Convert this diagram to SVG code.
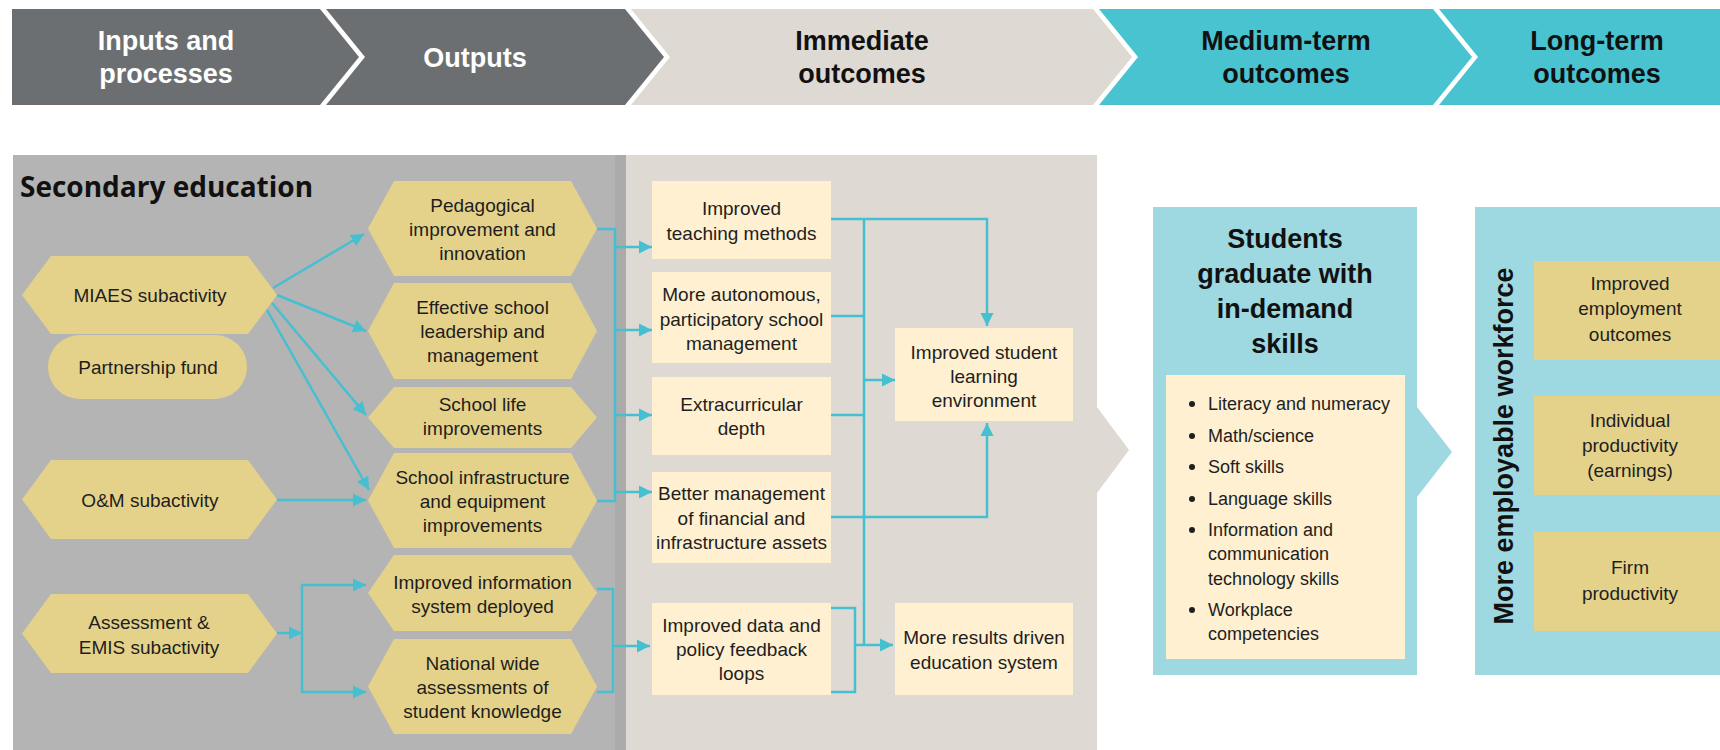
<svg xmlns="http://www.w3.org/2000/svg" width="1720" height="750" viewBox="0 0 1720 750">
<defs>
<style>
.hd{font-family:"Liberation Sans",Arial,sans-serif;font-weight:bold;font-size:27px;text-anchor:middle}
.hw{fill:#ffffff}
.hk{fill:#111111}
.t{font-family:"Liberation Sans",Arial,sans-serif;font-size:19px;fill:#1e1e1e;text-anchor:middle}
.b{font-family:"Liberation Sans",Arial,sans-serif;font-size:18px;fill:#1e1e1e}
.gold{fill:#e5d28a}
.cream{fill:#fef0d0}
.con{fill:none;stroke:#46bfd0;stroke-width:2.5}
.arr{fill:none;stroke:#46bfd0;stroke-width:2.5;marker-end:url(#ah)}
</style>
<marker id="ah" markerUnits="userSpaceOnUse" markerWidth="13" markerHeight="14" viewBox="0 0 10 10" refX="10" refY="5" orient="auto">
<path d="M0,0 L10,5 L0,10 Z" fill="#46bfd0"/>
</marker>
</defs>

<g id="header">
<path d="M12,9 L320,9 L359,57 L320,105 L12,105 Z" fill="#6c6f71"/>
<path d="M326,9 L625,9 L664,57 L625,105 L326,105 L365,57 Z" fill="#6c6f71"/>
<path d="M631,9 L1093,9 L1132,57 L1093,105 L631,105 L670,57 Z" fill="#dedad3"/>
<path d="M1099,9 L1433,9 L1472,57 L1433,105 L1099,105 L1138,57 Z" fill="#4ac3d1"/>
<path d="M1439,9 L1720,9 L1720,105 L1439,105 L1478,57 Z" fill="#4ac3d1"/>
<text class="hd hw" x="166" y="50">Inputs and</text>
<text class="hd hw" x="166" y="83">processes</text>
<text class="hd hw" x="475" y="67">Outputs</text>
<text class="hd hk" x="862" y="50">Immediate</text>
<text class="hd hk" x="862" y="83">outcomes</text>
<text class="hd hk" x="1286" y="50">Medium-term</text>
<text class="hd hk" x="1286" y="83">outcomes</text>
<text class="hd hk" x="1597" y="50">Long-term</text>
<text class="hd hk" x="1597" y="83">outcomes</text>
</g>

<g id="panels">
<rect x="13" y="155" width="613" height="595" fill="#b4b4b4"/>
<rect x="615" y="155" width="11" height="595" fill="#ababab"/>
<path d="M626,155 L1097,155 L1097,407 L1129,450 L1097,493 L1097,750 L626,750 Z" fill="#dedad3"/>
<text x="20" y="197" font-family="'Open Sans','Noto Sans',sans-serif" font-weight="700" font-size="28" fill="#111111">Secondary education</text>
</g>

<g id="connectors">
<path class="arr" d="M273,288 L364,234"/>
<path class="arr" d="M277,295 L366,331"/>
<path class="arr" d="M272,303 L366,415"/>
<path class="arr" d="M267,310 L369,490"/>
<path class="arr" d="M277,500 L366,500"/>
<path class="arr" d="M277,633 L302,633"/>
<path class="con" d="M302,585 V692"/>
<path class="arr" d="M301,585 H366"/>
<path class="arr" d="M301,692 H366"/>
<path class="con" d="M597,229 H615 V501 H597"/>
<path class="arr" d="M614,247 H652"/>
<path class="arr" d="M614,330 H652"/>
<path class="arr" d="M614,415 H652"/>
<path class="arr" d="M614,492 H652"/>
<path class="con" d="M597,589 H613 V692 H597"/>
<path class="arr" d="M612,646 H650"/>
<path class="con" d="M864,219 V645"/>
<path class="arr" d="M831,219 H987 V326"/>
<path class="con" d="M831,316 H864"/>
<path class="con" d="M831,415 H864"/>
<path class="arr" d="M831,517 H987 V423"/>
<path class="arr" d="M863,380 H895"/>
<path class="con" d="M831,608 H855 V692 H831"/>
<path class="arr" d="M854,645 H893"/>
</g>

<g id="n-miaes">
<polygon class="gold" points="22,295 51,256 248,256 277,295 248,334 51,334"/>
<text class="t" x="150" y="302">MIAES subactivity</text>
</g>
<g id="n-partnership">
<rect class="gold" x="48" y="335" width="199" height="64" rx="32" ry="32"/>
<text class="t" x="148" y="374">Partnership fund</text>
</g>
<g id="n-om">
<polygon class="gold" points="22,499.5 51,460 248,460 277,499.5 248,539 51,539"/>
<text class="t" x="150" y="507">O&amp;M subactivity</text>
</g>
<g id="n-assessment">
<polygon class="gold" points="22,633.5 51,594 248,594 277,633.5 248,673 51,673"/>
<text class="t" x="149" y="629">Assessment &amp;</text>
<text class="t" x="149" y="654">EMIS subactivity</text>
</g>

<g id="n-pedagogical">
<polygon class="gold" points="368,228.5 394,181 571,181 597,228.5 571,276 394,276"/>
<text class="t" x="482.5" y="212">Pedagogical</text>
<text class="t" x="482.5" y="236">improvement and</text>
<text class="t" x="482.5" y="260">innovation</text>
</g>
<g id="n-leadership">
<polygon class="gold" points="368,331 394,283 571,283 597,331 571,379 394,379"/>
<text class="t" x="482.5" y="314">Effective school</text>
<text class="t" x="482.5" y="338">leadership and</text>
<text class="t" x="482.5" y="362">management</text>
</g>
<g id="n-schoollife">
<polygon class="gold" points="368,417.5 394,387 571,387 597,417.5 571,448 394,448"/>
<text class="t" x="482.5" y="411">School life</text>
<text class="t" x="482.5" y="435">improvements</text>
</g>
<g id="n-infrastructure">
<polygon class="gold" points="368,500.5 394,453 571,453 597,500.5 571,548 394,548"/>
<text class="t" x="482.5" y="484">School infrastructure</text>
<text class="t" x="482.5" y="508">and equipment</text>
<text class="t" x="482.5" y="532">improvements</text>
</g>
<g id="n-infosystem">
<polygon class="gold" points="368,593 394,555 571,555 597,593 571,631 394,631"/>
<text class="t" x="482.5" y="589">Improved information</text>
<text class="t" x="482.5" y="613">system deployed</text>
</g>
<g id="n-assessments">
<polygon class="gold" points="368,686.5 394,639 571,639 597,686.5 571,734 394,734"/>
<text class="t" x="482.5" y="670">National wide</text>
<text class="t" x="482.5" y="694">assessments of</text>
<text class="t" x="482.5" y="718">student knowledge</text>
</g>

<g id="n-teaching">
<rect class="cream" x="652" y="181" width="179" height="78"/>
<text class="t" x="741.5" y="215">Improved</text>
<text class="t" x="741.5" y="240">teaching methods</text>
</g>
<g id="n-autonomous">
<rect class="cream" x="652" y="272" width="179" height="91"/>
<text class="t" x="741.5" y="301">More autonomous,</text>
<text class="t" x="741.5" y="326">participatory school</text>
<text class="t" x="741.5" y="350">management</text>
</g>
<g id="n-extracurricular">
<rect class="cream" x="652" y="377" width="179" height="78"/>
<text class="t" x="741.5" y="411">Extracurricular</text>
<text class="t" x="741.5" y="435">depth</text>
</g>
<g id="n-financial">
<rect class="cream" x="652" y="472" width="179" height="91"/>
<text class="t" x="741.5" y="500">Better management</text>
<text class="t" x="741.5" y="525">of financial and</text>
<text class="t" x="741.5" y="549">infrastructure assets</text>
</g>
<g id="n-feedback">
<rect class="cream" x="652" y="603" width="179" height="92"/>
<text class="t" x="741.5" y="632">Improved data and</text>
<text class="t" x="741.5" y="656">policy feedback</text>
<text class="t" x="741.5" y="680">loops</text>
</g>
<g id="n-learning">
<rect class="cream" x="895" y="328" width="178" height="93"/>
<text class="t" x="984" y="359">Improved student</text>
<text class="t" x="984" y="383">learning</text>
<text class="t" x="984" y="407">environment</text>
</g>
<g id="n-results">
<rect class="cream" x="895" y="603" width="178" height="92"/>
<text class="t" x="984" y="644">More results driven</text>
<text class="t" x="984" y="669">education system</text>
</g>

<g id="n-medium">
<path d="M1153,207 H1417 V407 L1452,452 L1417,497 V675 H1153 Z" fill="#9ed8e0"/>
<text class="hd hk" x="1285" y="248">Students</text>
<text class="hd hk" x="1285" y="283">graduate with</text>
<text class="hd hk" x="1285" y="318">in-demand</text>
<text class="hd hk" x="1285" y="353">skills</text>
<rect class="cream" x="1166" y="375" width="239" height="284"/>
<g fill="#1e1e1e">
<circle cx="1192" cy="404" r="3"/>
<circle cx="1192" cy="436" r="3"/>
<circle cx="1192" cy="467" r="3"/>
<circle cx="1192" cy="499" r="3"/>
<circle cx="1192" cy="530" r="3"/>
<circle cx="1192" cy="610" r="3"/>
</g>
<text class="b" x="1208" y="410">Literacy and numeracy</text>
<text class="b" x="1208" y="442">Math/science</text>
<text class="b" x="1208" y="473">Soft skills</text>
<text class="b" x="1208" y="505">Language skills</text>
<text class="b" x="1208" y="536">Information and</text>
<text class="b" x="1208" y="560">communication</text>
<text class="b" x="1208" y="585">technology skills</text>
<text class="b" x="1208" y="616">Workplace</text>
<text class="b" x="1208" y="640">competencies</text>
</g>

<g id="n-longterm">
<rect x="1475" y="207" width="245" height="468" fill="#9ed8e0"/>
<text class="hd hk" transform="translate(1513,446) rotate(-90)" x="0" y="0">More employable workforce</text>
</g>
<g id="n-employment">
<rect class="gold" x="1534" y="261" width="186" height="99"/>
<text class="t" x="1630" y="290">Improved</text>
<text class="t" x="1630" y="315">employment</text>
<text class="t" x="1630" y="341">outcomes</text>
</g>
<g id="n-individual">
<rect class="gold" x="1534" y="396" width="186" height="99"/>
<text class="t" x="1630" y="427">Individual</text>
<text class="t" x="1630" y="452">productivity</text>
<text class="t" x="1630" y="477">(earnings)</text>
</g>
<g id="n-firm">
<rect class="gold" x="1534" y="532" width="186" height="99"/>
<text class="t" x="1630" y="574">Firm</text>
<text class="t" x="1630" y="600">productivity</text>
</g>
</svg>
